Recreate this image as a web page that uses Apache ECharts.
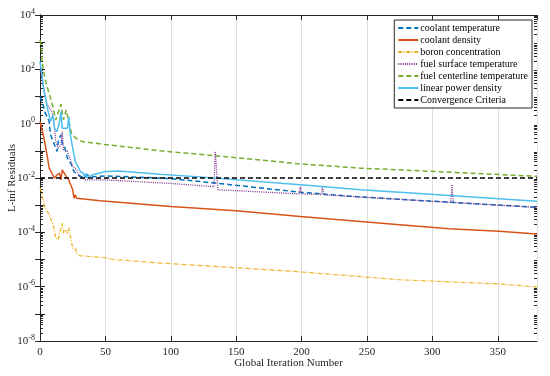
<!DOCTYPE html>
<html><head><meta charset="utf-8">
<script src="https://cdn.jsdelivr.net/npm/echarts@6/dist/echarts.min.js"></script>
<style>html,body{margin:0;padding:0;background:#fff}#c{width:550px;height:376px}</style>
</head><body><div id="c"></div>
<script>
// ---- data: [iteration, residual] ----
const coolantTemperature = [[0,10],[2,5.6],[4,2.5],[7,1.2],[8,0.39],[11,0.17],[13,0.095],[14,0.22],[16,0.39],[17,0.19],[19,0.13],[21,0.054],[24,0.031],[26,0.017],[29,0.013],[34,0.010],[36,0.013],[40,0.011],[50,0.012],[100,0.0095],[134,0.0065],[199,0.003],[245,0.002],[300,0.0014],[380,0.00083]];
const coolantDensity = [[0,1.2],[3,0.3],[6,0.047],[7,0.023],[8,0.027],[11,0.01],[13,0.013],[15,0.015],[16,0.0085],[17,0.02],[20,0.0115],[22,0.0085],[25,0.0037],[26,0.0018],[27,0.0024],[28,0.0018],[29,0.00155],[46,0.00145],[100,0.00089],[150,0.00062],[199,0.00038],[275,0.00019],[313,0.000135],[351,0.00011],[380,0.000087]];
const boronConcentration = [[0,0.0043],[1,0.0032],[3,0.001],[7,0.00045],[10,0.00019],[12,0.000062],[14,0.000054],[15,0.000093],[17,0.00022],[18,0.000093],[19,0.000126],[21,0.000093],[22,0.000145],[23,0.000081],[25,0.000026],[27,0.000026],[28,0.000017],[30,0.000014],[51,0.0000115],[56,0.00001],[92,0.0000074],[150,0.000005],[199,0.0000035],[275,0.0000018],[351,0.00000126],[380,0.00000098]];
const fuelSurfaceTemperature = [[0,100],[2,32],[3,17],[5,5.6],[9,2.8],[11,0.9],[12,0.22],[14,0.126],[16,0.166],[17,0.51],[18,0.11],[21,0.095],[22,0.071],[25,0.027],[28,0.02],[30,0.0115],[35,0.0085],[50,0.0085],[100,0.0063],[133,0.0048],[134,0.095],[135,0.085],[136,0.0037],[198,0.0026],[199,0.0047],[200,0.0026],[215,0.00245],[216,0.0047],[217,0.0024],[245,0.002],[314,0.00126],[315,0.0058],[316,0.00125],[380,0.00083]];
const fuelCenterlineTemperature = [[0,1200],[1,690],[2,145],[3,72],[5,27],[7,13],[10,4],[12,1.35],[16,5.2],[18,1.4],[20,3.2],[22,1.2],[24,0.45],[27,0.3],[32,0.22],[50,0.17],[92,0.1],[134,0.066],[199,0.033],[245,0.023],[275,0.02],[380,0.0115]];
const linearPowerDensity = [[0,195],[2,41],[3,17],[6,3.2],[7,3.7],[8,1.2],[10,2.1],[11,0.68],[13,0.51],[15,1.2],[16,2.8],[17,0.68],[21,0.68],[22,1.8],[23,0.45],[25,0.126],[27,0.041],[29,0.027],[31,0.017],[33,0.015],[34,0.0115],[35,0.015],[36,0.01],[40,0.013],[50,0.0174],[60,0.018],[92,0.0138],[122,0.011],[199,0.0056],[245,0.0037],[275,0.003],[380,0.00138]];
const convergenceCriteria = [[0,0.01],[380,0.01]];
const seriesNames = ['coolant temperature','coolant density','boron concentration','fuel surface temperature','fuel centerline temperature','linear power density','Convergence Criteria'];
const xTicks = [0,50,100,150,200,250,300,350];
const yLabelTicks = [1e-8,1e-6,1e-4,1e-2,1,1e2,1e4];

const majorY = [], minorY = [];
for (let e = -8; e <= 4; e++) { majorY.push(Math.pow(10, e)); if (e < 4) for (let m = 2; m <= 9; m++) minorY.push(m * Math.pow(10, e)); }

const FONT = 'Liberation Serif';
const AX = '#262626';
const chart = echarts.init(document.getElementById('c'), null, {renderer:'canvas'});
function mk(name, data, color, type, width, z) {
  return {name, type:'line', data, xAxisIndex:0, yAxisIndex:0, symbol:'none', showSymbol:false, animation:false,
    lineStyle:{color, type, width}, itemStyle:{color}, z};
}
const yBase = {type:'log', logBase:10, min:1e-8, max:1e4, splitLine:{show:false}};
chart.setOption({
  animation:false,
  grid:{left:40, right:13, top:15, bottom:35, containLabel:false, outerBoundsMode:'none'},
  legend:{
    orient:'vertical', right:18, top:20, data:seriesNames,
    backgroundColor:'#fff', borderColor:AX, borderWidth:1, borderRadius:0,
    padding:[3,4,3,3], itemWidth:20, itemHeight:10, itemGap:2,
    itemStyle:{opacity:0},
    textStyle:{fontFamily:FONT, fontSize:10, lineHeight:10, color:'#000', padding:[0,0,0,-3]}
  },
  xAxis:[
    {type:'value', min:0, max:380, interval:50, position:'bottom',
     name:'Global Iteration Number', nameLocation:'middle', nameGap:17, nameMoveOverlap:false,
     nameTextStyle:{fontFamily:FONT, fontSize:11, color:'#262626'},
     axisLine:{show:true, lineStyle:{color:AX, width:1}},
     axisTick:{show:true, inside:true, length:5, lineStyle:{color:AX}},
     axisLabel:{fontFamily:FONT, fontSize:11, color:'#262626', margin:6, showMaxLabel:false},
     splitLine:{show:true, lineStyle:{color:'#dedede', width:1}}},
    {type:'value', min:0, max:380, interval:50, position:'top',
     axisLine:{show:true, lineStyle:{color:AX, width:1}},
     axisTick:{show:true, inside:true, length:5, lineStyle:{color:AX}},
     axisLabel:{show:false}, splitLine:{show:false}}
  ],
  yAxis:[
    Object.assign({}, yBase, {position:'left',
     name:'L-inf Residuals', nameLocation:'middle', nameGap:22, nameRotate:90, nameMoveOverlap:false,
     nameTextStyle:{fontFamily:FONT, fontSize:11, color:'#262626'},
     axisLine:{show:true, lineStyle:{color:AX, width:1}},
     axisTick:{show:true, inside:true, length:5, customValues:majorY, lineStyle:{color:AX}},
     axisLabel:{customValues:yLabelTicks, margin:5, color:'#262626',
       formatter:function(v){ return '{b|10}{s|' + Math.round(Math.log10(v)) + '}'; },
       rich:{b:{fontFamily:FONT, fontSize:11, color:'#262626'}, s:{fontFamily:FONT, fontSize:8, color:'#262626', verticalAlign:'top', padding:[0,0,7,0]}}}}),
    Object.assign({}, yBase, {position:'right',
     axisLine:{show:true, lineStyle:{color:AX, width:1}},
     axisTick:{show:true, inside:true, length:5, customValues:majorY, lineStyle:{color:AX}},
     axisLabel:{show:false}}),
    Object.assign({}, yBase, {position:'left',
     axisLine:{show:false},
     axisTick:{show:true, inside:true, length:3, customValues:minorY, lineStyle:{color:AX}},
     axisLabel:{show:false}}),
    Object.assign({}, yBase, {position:'right',
     axisLine:{show:false},
     axisTick:{show:true, inside:true, length:3, customValues:minorY, lineStyle:{color:AX}},
     axisLabel:{show:false}})
  ],
  series:[
    mk(seriesNames[0], coolantTemperature, '#0072BD', [5,3], 1.5, 2),
    mk(seriesNames[1], coolantDensity, '#D95319', 'solid', 1.5, 3),
    mk(seriesNames[2], boronConcentration, '#EDB120', [4,1.5,1,1.5], 1.2, 4),
    mk(seriesNames[3], fuelSurfaceTemperature, '#7E2F8E', [1,1.2], 1.3, 5),
    mk(seriesNames[4], fuelCenterlineTemperature, '#77AC30', [5,3], 1.5, 6),
    mk(seriesNames[5], linearPowerDensity, '#4DBEEE', 'solid', 1.5, 7),
    mk(seriesNames[6], convergenceCriteria, '#000000', [5,3], 1.5, 8)
  ]
});
</script></body></html>
